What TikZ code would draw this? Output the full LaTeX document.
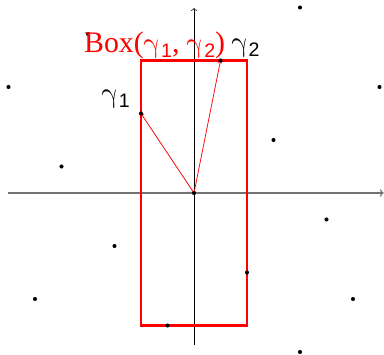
\documentclass[tikz,border=0pt]{standalone}
\usepackage{fontspec}
\setmainfont{Liberation Serif}
\newfontfamily\gsans{Liberation Sans}
\newfontfamily\gfont{latinmodern-math.otf}
\usetikzlibrary{arrows.meta}
\tikzset{
  latpt/.style={circle,fill=black,inner sep=0pt,minimum size=4.4pt},
  axisx/.style={draw=black!55,line width=1.3pt,-{To[length=4pt,width=8pt]}},
  axisy/.style={draw=black,line width=0.6pt,-{To[length=3pt,width=7pt]}},
  boxline/.style={draw=red,line width=2.2pt},
  vecline/.style={draw=red,line width=0.8pt,-{To[length=3pt,width=5pt]}},
  lbl/.style={inner sep=0pt,anchor=base west}
}
\newcommand{\gsub}[1]{{\gfont\fontsize{31}{31}\selectfont γ\kern0.5pt\raisebox{-5.4pt}{\gsans\fontsize{21}{21}\selectfont #1}}}
\begin{document}
\begin{tikzpicture}[x=1cm,y=1cm]
\useasboundingbox (-7.3208,-6.0755) rectangle (7.1698,7.2830);
\coordinate (xl) at (-7,0);
\coordinate (xr) at (7.16,0);
\coordinate (yb) at (0,-5.72);
\coordinate (yt) at (0,6.98);
\coordinate (O) at (0,0);
\coordinate (g1) at (-2,3);
\coordinate (g2) at (1,5);
\coordinate (bl) at (-2,-5);
\coordinate (tr) at (2,5);
\draw[axisx] (xl) -- (xr);
\draw[axisy] (yb) -- (yt);
\draw[boxline] (bl) rectangle (tr);
\draw[vecline] (O) -- (g1);
\draw[vecline] (O) -- (g2);
\foreach \n/\p in {a/{0,0},b/{-2,3},c/{1,5},d/{-1,-5},e/{2,-3},f/{3,2},g/{-3,-2},h/{-5,1},i/{5,-1},j/{-6,-4},k/{6,-4},l/{4,7},m/{4,-6},n/{-7,4},o/{7,4},p/{-4,6}}
  \node[latpt] (pt\n) at (\p) {};
\node[lbl] (lg1) at (-3.5,3.42) {\gsub{1}};
\node[lbl] (lg2) at (1.4,5.35) {\gsub{2}};
\node[lbl,text=red] (lbox) at (-4.15,5.30) {\fontsize{32}{32}\selectfont Box(\gsub{1}, \gsub{2})};
\end{tikzpicture}
\end{document}
